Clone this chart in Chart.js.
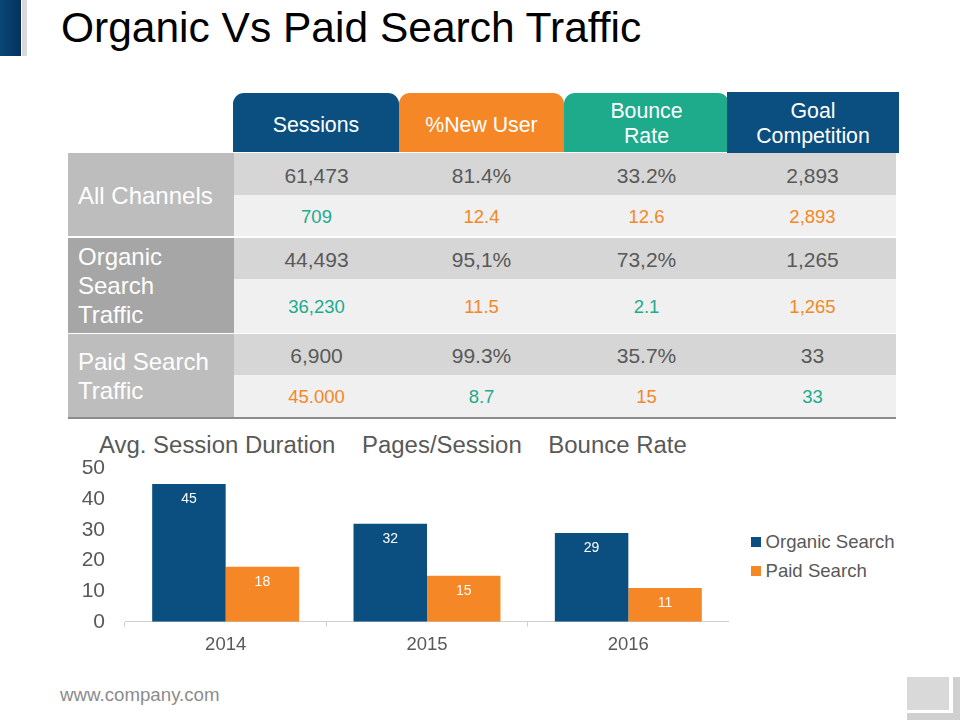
<!DOCTYPE html>
<html>
<head>
<meta charset="utf-8">
<title>Organic Vs Paid Search Traffic</title>
<script src="https://cdn.jsdelivr.net/npm/chart.js@4"></script>
<style>
    html, body { margin: 0; padding: 0; background: #fff; }
    body { width: 960px; height: 720px; position: relative; overflow: hidden; font-family: "Liberation Sans", Arial, sans-serif; }
    .abs { position: absolute; }
    .cell { position: absolute; display: flex; align-items: center; justify-content: center; text-align: center; box-sizing: border-box; }
    .num { font-size: 21px; color: #595959; padding-top: 3px; }
    .sub { font-size: 18.5px; padding-top: 2px; }
    .head { color: #fff; font-size: 21.3px; line-height: 25px; padding-top: 2px; }
    .side { color: #fff; font-size: 24px; line-height: 29px; justify-content: flex-start; text-align: left; padding-left: 10px; padding-top: 1px; }
    #chartBox { position: absolute; left: 60px; top: 444px; width: 669px; height: 219px; }
    .legendItem { position: absolute; left: 751px; font-size: 18.6px; line-height: 22px; color: #595959; white-space: nowrap; padding-left: 14.5px; }
    .legendItem i { position: absolute; left: 0; top: 6px; width: 10px; height: 10px; }
</style>
</head>
<body>
<div class="abs" style="left:0;top:0;width:21px;height:56px;background:linear-gradient(90deg,#0a4676,#03335c)"></div>
<div class="abs" style="left:22px;top:0;width:5px;height:56px;background:#d9d9d9"></div>
<div class="abs" style="left:61px;top:3px;font-size:42.5px;line-height:50px;color:#000;white-space:nowrap">Organic Vs Paid Search Traffic</div>

<div id="table"></div>

<div class="abs" style="left:99px;top:431px;font-size:23.95px;line-height:28px;color:#595959;white-space:nowrap" id="subtitles"></div>

<div id="chartBox"><canvas id="trafficChart"></canvas></div>
<div id="legend"></div>

<div class="abs" style="left:60px;top:684px;font-size:18.7px;line-height:22px;color:#8c8c8c">www.company.com</div>
<div class="abs" style="left:907px;top:677px;width:42px;height:33px;background:#d9d9d9"></div>
<div class="abs" style="left:953px;top:677px;width:7px;height:43px;background:#d0d0d0"></div>
<div class="abs" style="left:907px;top:713px;width:53px;height:7px;background:#d0d0d0"></div>

<script>
// Шапка таблиці
const headers = [["Sessions"], ["%New User"], ["Bounce", "Rate"], ["Goal", "Competition"]];
const channels = [["All Channels"], ["Organic", "Search", "Traffic"], ["Paid Search", "Traffic"]];
const mainRows = [
    ["61,473", "81.4%", "33.2%", "2,893"],
    ["44,493", "95,1%", "73,2%", "1,265"],
    ["6,900", "99.3%", "35.7%", "33"]
];
const subRows = [
    ["709", "12.4", "12.6", "2,893"],
    ["36,230", "11.5", "2.1", "1,265"],
    ["45.000", "8.7", "15", "33"]
];
// g = зелений, o = помаранчевий
const subTones = [
    ["g", "o", "o", "o"],
    ["g", "o", "g", "o"],
    ["o", "g", "o", "g"]
];
const chartHeadings = ["Avg. Session Duration", "Pages/Session", "Bounce Rate"];

// Дані графіка
const years = ["2014", "2015", "2016"];
const organicSearch = [45, 32, 29];
const paidSearch = [18, 15, 11];

const BLUE = "#0a4f80";
const ORANGE = "#f58726";
const GREEN = "#1dab8c";

function addCell(text, x, y, w, h, cls, css) {
    const el = document.createElement("div");
    el.className = "cell " + cls;
    el.style.cssText = `left:${x}px;top:${y}px;width:${w}px;height:${h}px;` + (css || "");
    el.innerHTML = text;
    document.getElementById("table").appendChild(el);
}

// Будуємо таблицю
const colX = [234, 399, 564, 729, 896];
const headBoxes = [
    [233, 93, 166, 59, BLUE, "border-radius:11px 11px 0 0;padding-top:5px;"],
    [399, 93, 165, 59, ORANGE, "border-radius:11px 11px 0 0;padding-top:5px;"],
    [564, 93, 165, 59, GREEN, "border-radius:11px 11px 0 0;"],
    [727, 92, 172, 61, BLUE, ""]
];
headers.forEach((lines, i) => {
    const b = headBoxes[i];
    addCell(lines.join("<br>"), b[0], b[1], b[2], b[3], "head", `background:${b[4]};${b[5]}`);
});
const rowY = [[153, 195, 236], [238, 279, 333], [334, 375, 417]];
const sideBg = ["#bdbdbd", "#a6a6a6", "#bdbdbd"];
channels.forEach((lines, r) => {
    const [y0, y1, y2] = rowY[r];
    const nudge = r === 1 ? "padding-top:0;padding-bottom:1px;" : "";
    addCell(lines.join("<br>"), 68, y0, 166, y2 - y0, "side", `background:${sideBg[r]};${nudge}`);
    mainRows[r].forEach((val, c) => {
        const w = colX[c + 1] - colX[c];
        addCell(val, colX[c], y0, w, y1 - y0, "num", "background:#d6d6d6;");
        const tone = subTones[r][c] === "g" ? GREEN : ORANGE;
        addCell(subRows[r][c], colX[c], y1, w, y2 - y1, "sub", `background:#f0f0f0;color:${tone};`);
    });
});
addCell("", 68, 417, 828, 1.5, "", "background:#8c8c8c;");

document.getElementById("subtitles").textContent = chartHeadings.join("\u00a0\u00a0\u00a0\u00a0");

// Підписи значень всередині стовпчиків
const barLabels = {
    id: "barLabels",
    afterDatasetsDraw(chart) {
        const ctx = chart.ctx;
        ctx.save();
        ctx.fillStyle = "#fff";
        ctx.font = '14px "Liberation Sans"';
        ctx.textAlign = "center";
        ctx.textBaseline = "middle";
        chart.data.datasets.forEach((ds, i) => {
            chart.getDatasetMeta(i).data.forEach((bar, j) => {
                ctx.fillText(ds.data[j], bar.x, bar.y + 15);
            });
        });
        ctx.restore();
    }
};

const trafficChart = new Chart(document.getElementById("trafficChart"), {
    type: "bar",
    data: {
        labels: years,
        datasets: [
            { label: "Organic Search", data: organicSearch, backgroundColor: BLUE },
            { label: "Paid Search", data: paidSearch, backgroundColor: ORANGE }
        ]
    },
    options: {
        responsive: true,
        maintainAspectRatio: false,
        animation: false,
        datasets: { bar: { barPercentage: 1, categoryPercentage: 0.73 } },
        plugins: {
            title: { display: false },
            tooltip: { enabled: false },
            legend: { display: false }
        },
        scales: {
            x: {
                grid: { drawOnChartArea: false, color: "#d0d0d0", tickLength: 5 },
                border: { color: "#d0d0d0" },
                ticks: { color: "#595959", padding: 7, font: { family: "Liberation Sans", size: 18.5 } }
            },
            y: {
                min: 0,
                max: 50,
                grid: { display: false },
                border: { display: false },
                ticks: { stepSize: 10, color: "#595959", padding: 12, font: { family: "Liberation Sans", size: 21 } },
                afterFit(scale) { scale.width = 65; }
            }
        }
    },
    plugins: [barLabels]
});

// Легенда збирається з підписів наборів даних, щоб відступ до тексту був як в оригіналі
trafficChart.data.datasets.forEach((ds, i) => {
    const item = document.createElement("div");
    item.className = "legendItem";
    item.style.top = (531 + i * 29) + "px";
    item.innerHTML = `<i style="background:${ds.backgroundColor}"></i>${ds.label}`;
    document.getElementById("legend").appendChild(item);
});
</script>
</body>
</html>
